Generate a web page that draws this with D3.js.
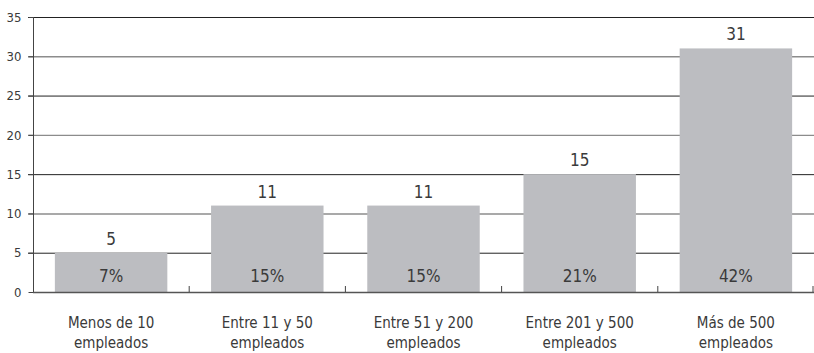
<!DOCTYPE html>
<html>
<head>
<meta charset="utf-8">
<script src="https://cdn.jsdelivr.net/npm/d3@7"></script>
<style>
  html, body { margin: 0; padding: 0; background: #fff; }
  svg text { font-family: "Liberation Sans Narrow", "DejaVu Sans Condensed", "Open Sans", sans-serif; fill: #3a3a3a; }
</style>
</head>
<body>
<svg id="chart" width="814" height="353"></svg>
<script>
// Company size groups
const categories = [
  ["Menos de 10", "empleados"],
  ["Entre 11 y 50", "empleados"],
  ["Entre 51 y 200", "empleados"],
  ["Entre 201 y 500", "empleados"],
  ["Más de 500", "empleados"]
];
const counts = [5, 11, 11, 15, 31];
const shares = ["7%", "15%", "15%", "21%", "42%"];
const yTicks = [0, 5, 10, 15, 20, 25, 30, 35];

const svg = d3.select("#chart");
const plotLeft = 33, plotRight = 814, plotTop = 17, plotBottom = 292;

const x = d3.scaleBand()
  .domain(d3.range(categories.length))
  .range([plotLeft, plotRight])
  .paddingInner(0.28)
  .paddingOuter(0.14);

const y = d3.scaleLinear().domain([0, 35]).range([plotBottom, plotTop]);

// Horizontal gridlines, alternating dark and grey
svg.append("g").selectAll("line")
  .data(yTicks.filter(d => d > 0))
  .join("line")
  .attr("x1", plotLeft - 5).attr("x2", plotRight)
  .attr("y1", d => y(d) + 0.5).attr("y2", d => y(d) + 0.5)
  .attr("stroke", d => (d % 10 === 0) ? "#8c8c8c" : "#222")
  .attr("stroke-width", d => (d % 10 === 0) ? 1.4 : 1);

// Bars
svg.append("g").selectAll("rect")
  .data(counts)
  .join("rect")
  .attr("x", (d, i) => x(i))
  .attr("width", x.bandwidth())
  .attr("y", d => y(d))
  .attr("height", d => y(0) - y(d))
  .attr("fill", "#bcbdc1");

// Y axis
const yAxis = d3.axisLeft(y).tickValues(yTicks).tickSize(5).tickPadding(7);
const gy = svg.append("g").attr("transform", `translate(${plotLeft + 0.5},0)`).call(yAxis);
gy.select(".domain").attr("stroke", "#444").attr("d", `M0,${plotBottom}V${plotTop}`);
gy.selectAll(".tick line").attr("stroke", "#444");
gy.selectAll(".tick text").attr("font-size", 13).attr("fill", "#3a3a3a");

// Baseline
svg.append("line")
  .attr("x1", plotLeft).attr("x2", plotRight)
  .attr("y1", plotBottom + 0.5).attr("y2", plotBottom + 0.5)
  .attr("stroke", "#555").attr("stroke-width", 1.5);

// Category separator ticks on the baseline
const step = x.step();
const sepX = i => Math.min(x(i - 1) + x.bandwidth() + (step - x.bandwidth()) / 2, plotRight - 1);
svg.append("g").selectAll("line")
  .data(d3.range(1, categories.length + 1))
  .join("line")
  .attr("x1", sepX)
  .attr("x2", sepX)
  .attr("y1", plotBottom).attr("y2", plotBottom - 6)
  .attr("stroke", "#444");

// Count labels above bars
svg.append("g").selectAll("text")
  .data(counts)
  .join("text")
  .attr("x", (d, i) => x(i) + x.bandwidth() / 2)
  .attr("y", d => y(d) - 8)
  .attr("text-anchor", "middle")
  .attr("font-size", 17)
  .text(d => d);

// Share labels inside bars
svg.append("g").selectAll("text")
  .data(shares)
  .join("text")
  .attr("x", (d, i) => x(i) + x.bandwidth() / 2)
  .attr("y", plotBottom - 10)
  .attr("text-anchor", "middle")
  .attr("font-size", 17)
  .text(d => d);

// Category labels
const cat = svg.append("g").selectAll("text")
  .data(categories)
  .join("text")
  .attr("text-anchor", "middle")
  .attr("font-size", 15);
cat.each(function(lines, i) {
  const t = d3.select(this);
  lines.forEach((ln, k) => {
    t.append("tspan")
      .attr("x", x(i) + x.bandwidth() / 2)
      .attr("y", 328 + k * 20)
      .text(ln);
  });
});
</script>
</body>
</html>
